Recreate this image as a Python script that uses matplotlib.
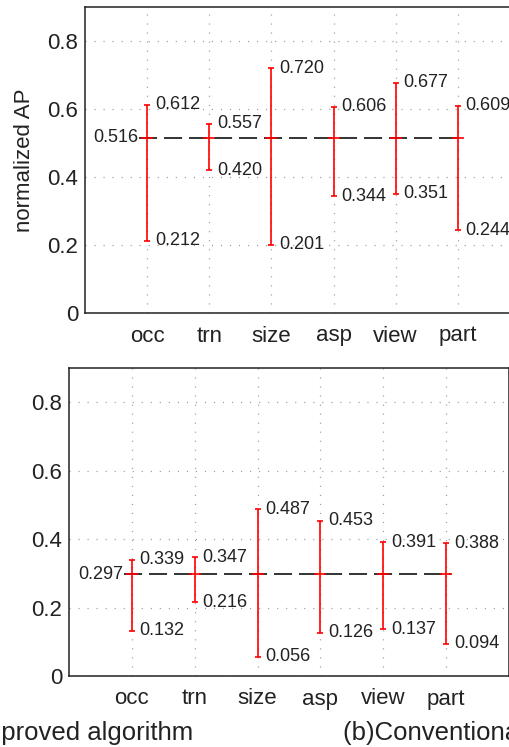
import matplotlib
matplotlib.use("Agg")
import matplotlib.pyplot as plt

plt.rcParams['font.family'] = ['Liberation Sans', 'DejaVu Sans']
plt.rcParams['lines.scale_dashes'] = False

# ====== data ======
categories = ["occ", "trn", "size", "asp", "view", "part"]

mean_a = 0.516
max_a = [0.612, 0.557, 0.720, 0.606, 0.677, 0.609]
min_a = [0.212, 0.420, 0.201, 0.344, 0.351, 0.244]

mean_b = 0.297
max_b = [0.339, 0.347, 0.487, 0.453, 0.391, 0.388]
min_b = [0.132, 0.216, 0.056, 0.126, 0.137, 0.094]

yticks = [0, 0.2, 0.4, 0.6, 0.8]
ytick_labels = ["0", "0.2", "0.4", "0.6", "0.8"]

txt = "#222222"


def draw_panel(ax, mean, vmax, vmin, ylabel=None):
    xs = list(range(1, len(categories) + 1))
    # dashed mean line
    ax.hlines(mean, xs[0] - 0.13, xs[-1] + 0.07, colors="#333333",
              linewidth=1.4, linestyles=(0, (13, 5)), zorder=3)
    for x, hi, lo in zip(xs, vmax, vmin):
        ax.vlines(x, lo, hi, colors="red", linewidth=1.2, zorder=4)
        ax.plot([x, x], [lo, hi], linestyle="none", marker="_",
                markersize=5, markeredgewidth=1.2, color="red", zorder=4)
        ax.plot([x], [mean], linestyle="none", marker="_",
                markersize=9, markeredgewidth=1.2, color="red", zorder=5)
        ax.annotate(f"{hi:.3f}", (x, hi), xytext=(5.5, 0),
                    textcoords="offset points", ha="left", va="center",
                    fontsize=13, color=txt)
        ax.annotate(f"{lo:.3f}", (x, lo), xytext=(5.5, 0),
                    textcoords="offset points", ha="left", va="center",
                    fontsize=13, color=txt)
    ax.annotate(f"{mean:.3f}", (xs[0], mean), xytext=(-6, 0),
                textcoords="offset points", ha="right", va="center",
                fontsize=13, color=txt)

    ax.set_xlim(0, len(categories) + 1)
    ax.set_ylim(0, 0.9)
    ax.set_xticks(xs)
    ax.set_xticklabels(categories)
    ax.set_yticks(yticks)
    ax.set_yticklabels(ytick_labels)
    ax.tick_params(axis="both", length=0, labelsize=16, colors=txt)
    ax.tick_params(axis="x", pad=9)
    ax.tick_params(axis="y", pad=5)
    ax.grid(True, color="#9a9a9a", linestyle=(0, (0.8, 5.7)), linewidth=0.9)
    ax.set_axisbelow(True)
    for s in ax.spines.values():
        s.set_color("#222222")
        s.set_linewidth(1.1)
    if ylabel:
        ax.set_ylabel(ylabel, fontsize=16, color=txt, labelpad=9)


fig = plt.figure(figsize=(5.10, 7.47), dpi=100)

W, H = 510.0, 747.0
ax_a = fig.add_axes([85 / W, 1 - 313 / H, 435 / W, 306 / H])
ax_b = fig.add_axes([69 / W, 1 - 676 / H, 440 / W, 308 / H])

draw_panel(ax_a, mean_a, max_a, min_a, ylabel="normalized AP")
draw_panel(ax_b, mean_b, max_b, min_b)

fig.text(193 / W, 1 - 740 / H, "(a)Improved algorithm", ha="right",
         va="baseline", fontsize=18.5, color=txt)
fig.text(343 / W, 1 - 740 / H, "(b)Conventional algorithm", ha="left",
         va="baseline", fontsize=18.5, color=txt)

fig.savefig("out.png", dpi=100)
